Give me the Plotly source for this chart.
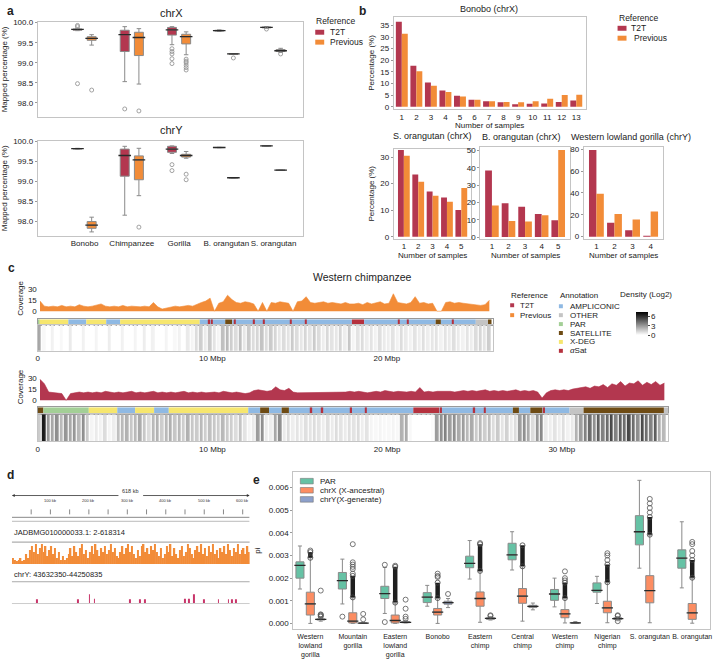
import plotly.graph_objects as go

W, H = 720, 666
FONT = "Liberation Sans, Arial, sans-serif"
T2T_C = "#B3374F"
PREV_C = "#F28C38"
FRAME_C = "#c4c4c4"

# ---------------- panel a data (lower whisker, q1, median, q3, upper whisker) ----------------
a_species = ["Bonobo", "Chimpanzee", "Gorilla", "B. orangutan", "S. orangutan"]
aX_t2t = [(99.80, 99.81, 99.83, 99.84, 99.86), (98.53, 99.28, 99.70, 99.81, 99.90),
          (99.45, 99.69, 99.82, 99.88, 99.90), (99.78, 99.79, 99.80, 99.81, 99.82),
          (99.86, 99.87, 99.88, 99.89, 99.90)]
aX_t2t_out = [[99.90, 99.93, 98.48], [97.85], [99.35, 99.28, 99.22, 99.10, 98.98], [], [99.84]]
aX_prev = [(99.44, 99.56, 99.61, 99.65, 99.70), (98.47, 99.18, 99.63, 99.76, 99.85),
           (99.20, 99.47, 99.65, 99.71, 99.77), (99.21, 99.215, 99.22, 99.225, 99.23),
           (99.26, 99.28, 99.30, 99.33, 99.36)]
aX_prev_out = [[98.32], [97.80], [99.09, 99.04, 99.00, 98.94, 98.88, 98.82], [99.12], [99.22]]
aY_t2t = [(99.81, 99.815, 99.82, 99.825, 99.83), (98.15, 99.13, 99.65, 99.81, 99.88),
          (99.70, 99.73, 99.81, 99.88, 99.89), (99.845, 99.848, 99.85, 99.852, 99.855),
          (99.885, 99.888, 99.89, 99.892, 99.895)]
aY_t2t_out = [[], [], [99.42, 99.27], [], []]
aY_prev = [(97.73, 97.82, 97.90, 97.99, 98.10), (98.64, 99.04, 99.54, 99.64, 99.83),
           (99.58, 99.61, 99.65, 99.68, 99.75), (99.085, 99.088, 99.09, 99.092, 99.095),
           (99.275, 99.278, 99.28, 99.282, 99.285)]
aY_prev_out = [[], [97.85], [99.18, 99.04], [], []]

# ---------------- panel b data ----------------
b_bonobo_n = list(range(1, 14))
b_bonobo_t2t = [36.6, 17.6, 10.4, 7.0, 4.7, 3.0, 2.4, 1.9, 1.1, 1.3, 1.4, 2.0, 2.7]
b_bonobo_prev = [31.4, 15.3, 9.0, 6.3, 4.4, 3.0, 2.4, 2.0, 1.9, 2.3, 3.4, 5.0, 5.1]
b_sorang_n = [1, 2, 3, 4, 5]
b_sorang_t2t = [32.7, 23.5, 17.1, 14.8, 10.1]
b_sorang_prev = [30.5, 20.7, 15.5, 13.2, 18.4]
b_borang_n = [1, 2, 3, 4, 5]
b_borang_t2t = [38.6, 19.6, 17.5, 13.4, 9.7]
b_borang_prev = [18.3, 9.3, 9.0, 12.7, 50.4]
b_gorilla_n = [1, 2, 3, 4]
b_gorilla_t2t = [79.4, 12.7, 5.9, 0.9]
b_gorilla_prev = [39.4, 20.7, 15.7, 23.1]

# ---------------- panel c data (0.25 Mbp bins) ----------------
BIN = 0.25
cov_prev = [14, 7, 6, 7, 6, 8, 6, 7, 6, 9, 7, 6, 7, 8, 10, 7, 6, 7, 6, 8, 6, 7, 6, 6,
            7, 6, 12, 6, 3, 4, 6, 7, 6, 7, 8, 7, 10, 12, 14, 18, 0, 11, 13, 22, 16, 12, 11, 13,
            12, 10, 0, 12, 0, 12, 11, 13, 12, 11, 0, 13, 14, 20, 12, 11, 12, 13, 11, 12,
            11, 10, 12, 10, 10, 11, 9, 12, 10, 11, 13, 10, 11, 24, 12, 11, 10, 12, 20, 11,
            12, 10, 11, 0, 0, 12, 13, 11, 12, 11, 10, 9, 9, 8, 9, 15]
cov_t2t = [28, 22, 11, 10, 10, 9, 0, 9, 10, 11, 10, 11, 10, 11, 10, 12, 11, 10, 11, 10,
           11, 12, 10, 11, 10, 11, 12, 10, 11, 10, 11, 10, 11, 12, 10, 11, 10, 11, 10, 11,
           11, 10, 12, 11, 10, 11, 10, 9, 10, 13, 14, 13, 12, 13, 18, 14, 13, 16, 11, 10,
           10, 11, 10, 11, 10, 11, 10, 11, 11, 10, 11, 12, 11, 12, 11, 10, 11, 12, 11, 13,
           12, 11, 12, 11, 11, 12, 11, 17, 11, 12, 11, 12, 12, 13, 12, 11, 12, 13, 12, 13,
           12, 13, 14, 12, 13, 12, 13, 12, 13, 14, 12, 13, 12, 13, 11, 3, 10, 13, 14, 13,
           14, 13, 15, 16, 17, 18, 16, 19, 18, 21, 17, 22, 20, 25, 19, 23, 22, 26, 20, 24,
           21, 25, 20, 23]
dens_prev = [2.5, 0.2, 0, 0.4, 0, 0.2, 0, 0.6, 0, 0, 0.4, 0, 0, 0.3, 0, 0,
             0.5, 0, 0, 0.4, 0, 0, 0.3, 0, 0.5, 0, 0.4, 0, 0, 0.3, 0, 0.2,
             0.4, 0, 0.6, 0.3, 1.0, 1.4, 0.6, 1.5, 0.8, 0.3, 1.8, 2.0, 1.4, 1.0, 1.8, 0.7,
             1.5, 1.0, 1.2, 1.7, 1.0, 1.5, 1.2, 0.7, 1.0, 0.8, 1.5, 1.0, 0.7, 1.2, 0.8, 1.5,
             1.0, 0.5, 1.1, 0.8, 0.7, 1.2, 0.5, 1.6, 0.3, 0.8, 1.0, 0.5, 0.8, 0.4, 0.9, 0.6,
             0.5, 0.8, 0.4, 1.0, 0.6, 0.4, 0.8, 0.5, 0.9, 0.5, 0.7, 0.8, 0.4, 0.8, 0.6, 0.9,
             0.6, 0.4, 0.8, 0.5, 1.0, 1.2, 0.8, 1.4]
dens_t2t = [1.5, 6.5, 3, 2.5, 3.2, 2, 3, 2.5, 3, 2, 3.2, 1.5, 0.3, 0.6, 0.4, 1.0,
            0.3, 0.5, 1.8, 2.0, 2.2, 1.6, 2.0, 2.4, 1.6, 1.0, 2.0, 2.2, 1.4, 2.0, 2.3, 1.6,
            2.0, 1.4, 2.2, 1.6, 1.5, 2.0, 1.4, 1.8, 1.6, 1.4, 2.0, 1.5, 1.4, 1.0, 1.7, 0.8,
            0.3, 0.6, 2.8, 3.2, 0.6, 0.5, 2.5, 3.2, 0.6, 1.0, 0.5, 0.8, 0.6, 0.9, 0.8, 1.0,
            0.8, 0.5, 0.9, 0.6, 1.0, 0.8, 0.6, 0.9, 0.8, 1.0, 0.5, 0.8, 0.3, 0.2, 0.3, 0.2,
            0.2, 0.3, 0.2, 2.2, 2.4, 0.2, 0, 0, 0, 0, 0.1, 2.8, 3.2, 3.6, 2.8, 3.2,
            2.4, 2.8, 2.0, 2.4, 1.5, 2.0, 1.4, 1.8, 1.0, 1.5, 0.8, 1.3, 0.6, 1.0, 2.8, 3.2,
            2.4, 1.0, 3.0, 3.4, 0.6, 0.5, 0.8, 0.5, 0.9, 0.4, 0.6, 2.2, 2.8, 3.6, 4.2, 3.2,
            4.6, 3.6, 4.2, 5.2, 3.6, 4.6, 4.2, 5.2, 4.2, 3.2, 5.2, 4.2, 3.6, 4.6, 2.4, 2.0]
ann_colors = {"AMPLICONIC": "#8FB9E3", "OTHER": "#C4C4C4", "PAR": "#A3CF96",
              "SATELLITE": "#6E4B14", "X-DEG": "#F6E66E", "αSat": "#B5313E"}
ann_prev = [(0, 0.1, "PAR"), (0.1, 1.75, "X-DEG"), (1.75, 2.78, "AMPLICONIC"), (2.78, 3.92, "X-DEG"),
            (3.92, 4.72, "AMPLICONIC"), (4.72, 9.28, "X-DEG"), (9.28, 10.74, "AMPLICONIC"),
            (10.74, 11.14, "SATELLITE"), (11.14, 18.0, "AMPLICONIC"), (18.0, 18.7, "αSat"),
            (18.7, 22.8, "AMPLICONIC"), (22.8, 23.1, "SATELLITE"), (23.1, 25.1, "AMPLICONIC"),
            (25.1, 25.8, "OTHER"), (25.8, 26.0, "SATELLITE")]
ann_prev_asat = [9.83, 9.98, 11.3, 12.4, 12.97, 14.5, 15.35, 20.7, 21.2, 23.8]
ann_t2t = [(0, 0.32, "SATELLITE"), (0.32, 2.92, "PAR"), (2.92, 4.55, "X-DEG"), (4.55, 5.57, "AMPLICONIC"),
           (5.57, 6.66, "X-DEG"), (6.66, 7.5, "AMPLICONIC"), (7.5, 12.05, "X-DEG"),
           (12.05, 12.73, "AMPLICONIC"), (12.73, 13.24, "SATELLITE"), (13.24, 13.96, "AMPLICONIC"),
           (13.96, 14.38, "SATELLITE"), (14.38, 21.5, "AMPLICONIC"), (21.5, 23.0, "αSat"),
           (23.0, 27.2, "AMPLICONIC"), (27.2, 27.55, "SATELLITE"), (27.55, 28.2, "AMPLICONIC"),
           (28.2, 28.9, "SATELLITE"), (28.9, 30.45, "AMPLICONIC"), (30.45, 31.25, "OTHER"),
           (31.25, 35.85, "SATELLITE"), (35.85, 36.1, "OTHER")]
ann_t2t_asat = [15.67, 16.3, 17.95, 18.8, 23.1, 25.0, 25.6, 29.0]

# ---------------- panel d data ----------------
d_bin_kb = 5
d_orange = [0.3, 0.2, 0.15, 0.2, 0.3, 0.15, 0.2, 0.5, 0.3, 0.7,
            0.9, 0.6, 1.0, 0.5, 0.8, 1.0, 0.6, 0.9, 0.4, 0.7,
            0.9, 0.5, 0.8, 0.3, 0.6, 0.2, 0.4, 0.2, 0.3, 0.5,
            0.8, 0.4, 0.9, 0.6, 0.4, 0.8, 1.0, 0.5, 0.7, 0.3,
            0.6, 0.9, 0.5, 1.0, 0.7, 0.4, 0.8, 0.6, 0.9, 0.5,
            0.7, 1.0, 0.6, 0.8, 0.4, 0.3, 0.6, 0.9, 0.5, 0.8,
            1.0, 0.6, 0.9, 0.5, 0.3, 0.7, 0.4, 0.9, 1.0, 0.6,
            0.8, 0.5, 0.9, 0.7, 1.0, 0.6, 0.4, 0.8, 0.3, 0.5,
            0.9, 0.6, 1.0, 0.4, 0.8, 0.5, 0.3, 0.7, 0.9, 0.4,
            0.6, 1.0, 0.8, 0.5, 0.3, 0.7, 0.9, 0.6, 1.0, 0.5,
            0.8, 0.4, 0.9, 0.6, 1.0, 0.5, 0.7, 0.3, 0.8, 0.6,
            0.9, 0.5, 1.0, 0.7, 0.4, 0.8, 0.6, 1.0, 0.5, 0.7,
            0.8, 0.5, 0.9, 0.6]
d_pink_kb = [65, 171, 201.5, 214.5, 306, 332, 345, 451, 460, 473, 499, 537, 563, 571, 582]
d_pink_h = [0.2, 0.2, 0.43, 0.22, 0.2, 0.2, 0.2, 0.22, 0.22, 0.43, 0.2, 0.2, 0.2, 0.2, 0.2]
d_ruler_ticks = [50, 100, 150, 200, 250, 300, 350, 400, 450, 500, 550, 600]

# ---------------- panel e data ----------------
e_groups = ["Western<br>lowland<br>gorilla", "Mountain<br>gorilla", "Eastern<br>lowland<br>gorilla",
            "Bonobo", "Eastern<br>chimp", "Central<br>chimp", "Western<br>chimp", "Nigerian<br>chimp",
            "S. orangutan", "B. orangutan"]
e_par = [(0.00152, 0.0020, 0.00256, 0.00272, 0.00342), (0.00086, 0.00152, 0.00189, 0.00225, 0.00284),
         (0.00044, 0.0011, 0.00132, 0.00164, 0.00247), (0.00076, 0.00092, 0.00116, 0.00136, 0.00168),
         (0.00196, 0.00246, 0.00265, 0.00297, 0.00366), (0.00236, 0.00281, 0.00303, 0.00354, 0.00405),
         (0.00073, 0.00102, 0.0013, 0.0015, 0.0020), (0.00088, 0.00138, 0.00146, 0.00179, 0.00208),
         (0.00244, 0.00347, 0.00405, 0.00476, 0.00632), (0.00157, 0.00244, 0.00288, 0.00325, 0.00449)]
e_par_out = [[], [0.0003], [0.00006, 0.00259], [], [], [], [], [], [], []]
e_x = [(0.0, 0.00037, 0.00086, 0.00138, 0.0029), (0.0, 0.00002, 0.0001, 0.00047, 0.00113),
       (0.0, 0.00002, 0.00013, 0.00037, 0.0009), (0.0, 0.00037, 0.0005, 0.00066, 0.0011),
       (0.00005, 0.00076, 0.0011, 0.00139, 0.0023), (0.0001, 0.00089, 0.00121, 0.00154, 0.0025),
       (0.00002, 0.00025, 0.00042, 0.00061, 0.0011), (0.00003, 0.00047, 0.00069, 0.00098, 0.0018),
       (0.00003, 0.00091, 0.00145, 0.00211, 0.0039), (0.00001, 0.00018, 0.00047, 0.00088, 0.0020)]
e_x_dense = [(0.0029, 0.00315), (0.00115, 0.0021), (0.00092, 0.0025), (0.00112, 0.0018),
             (0.00232, 0.0035), (0.00252, 0.00345), (0.00112, 0.0018), (0.00182, 0.0026),
             (0.00392, 0.0047), (0.00202, 0.0028)]
e_x_out = [[0.00322], [0.0022, 0.0024, 0.0025, 0.0026, 0.0027, 0.0035], [0.00255],
           [0.00205, 0.0021, 0.0022], [0.00355], [], [0.0019, 0.0020, 0.0023],
           [0.0028, 0.0030, 0.0031], [0.0049, 0.0051, 0.0053, 0.0055], [0.003, 0.0032, 0.0035, 0.0036]]
e_y = [(0.0001, 0.00015, 0.00018, 0.0002, 0.00028), (0.0, 0.0, 0.00001, 0.00002, 0.00004),
       (0.00002, 0.00003, 0.00005, 0.00008, 0.00012), (0.0007, 0.00085, 0.00092, 0.00098, 0.0011),
       (0.00015, 0.00018, 0.00022, 0.00025, 0.0003), (0.0006, 0.0007, 0.00075, 0.0008, 0.0009),
       (0.0, 0.00001, 0.00002, 0.00003, 0.00008), (0.00012, 0.00018, 0.00021, 0.00025, 0.0003)]
e_y_out = [[0.0003, 0.00034, 0.00038, 0.0004, 0.00145], [0.00018, 0.00042],
           [0.0002, 0.0003, 0.00065, 0.00105], [0.0013], [0.00033, 0.00036], [], [],
           [0.0001, 0.00033, 0.00036]]
E_PAR_C, E_X_C, E_Y_C = "#66C2A5", "#FC8D62", "#8DA0CB"

# ---------------- helpers ----------------
def xd(a, b):
    return [a / W, b / W]

def yd(top, bot):
    return [1 - bot / H, 1 - top / H]

def px(x):
    return x / W

def py(y):
    return 1 - y / H

fig = go.Figure()
layout = dict(width=W, height=H, margin=dict(l=0, r=0, t=0, b=0), paper_bgcolor="white",
              plot_bgcolor="white", font=dict(family=FONT, size=8, color="#222"),
              showlegend=False, barmode="group", bargap=0.18, bargroupgap=0.0)
annotations = []
shapes = []

def axis(n, xdom, ydom, xr, yr, frame=True, **kw):
    sx = "" if n == 1 else str(n)
    base = dict(showgrid=False, zeroline=False, showline=frame, mirror=frame, tickangle=0,
                linecolor=FRAME_C, linewidth=1, ticks="", tickfont=dict(size=8))
    xa = dict(base, domain=xdom, range=xr, anchor="y" + sx)
    ya = dict(base, domain=ydom, range=yr, anchor="x" + sx)
    xa.update(kw.get("x", {}))
    ya.update(kw.get("y", {}))
    layout["xaxis" + sx] = xa
    layout["yaxis" + sx] = ya
    return "x" + sx, "y" + sx

def text(x, y, s, size=8, anchor="left", bold=False, color="#222", valign="middle"):
    annotations.append(dict(x=px(x), y=py(y), xref="paper", yref="paper", text=("<b>%s</b>" % s) if bold else s,
                            showarrow=False, xanchor=anchor, yanchor=valign,
                            font=dict(size=size, color=color, family=FONT)))

def swatch(x0, y0, x1, y1, color, line=None):
    shapes.append(dict(type="rect", xref="paper", yref="paper", x0=px(x0), x1=px(x1), y0=py(y1), y1=py(y0),
                       fillcolor=color, line=dict(width=0.6 if line else 0, color=line or color)))

def add_boxes(stats, pos, color, xa, ya, width, msize):
    lo, q1, md, q3, hi = (list(v) for v in zip(*stats))
    fig.add_trace(go.Box(x=pos, lowerfence=lo, q1=q1, median=md, q3=q3, upperfence=hi, width=width,
                         fillcolor=color, line=dict(color="#8a8a8a", width=1), whiskerwidth=0.5,
                         boxpoints=False, xaxis=xa, yaxis=ya, hoverinfo="skip"))
    fig.add_trace(go.Scatter(x=pos, y=md, mode="markers", xaxis=xa, yaxis=ya, hoverinfo="skip",
                             marker=dict(symbol="line-ew", size=msize, line=dict(color="#2a2a2a", width=1.3))))

def add_outliers(outs, pos, xa, ya, size=4, color="#8c8c8c"):
    xs, ys = [], []
    for p, o in zip(pos, outs):
        xs += [p] * len(o)
        ys += o
    fig.add_trace(go.Scatter(x=xs, y=ys, mode="markers", xaxis=xa, yaxis=ya, hoverinfo="skip",
                             marker=dict(symbol="circle-open", size=size, color=color, line=dict(width=0.8))))

# ================= panel a =================
a_idx = list(range(len(a_species)))
a_t2t_pos = [i - 0.15 for i in a_idx]
a_prev_pos = [i + 0.15 for i in a_idx]
aytick = dict(tickvals=[98.0, 98.5, 99.0, 99.5, 100.0], ticktext=["98.0", "98.5", "99.0", "99.5", "100.0"],
              ticks="outside", ticklen=2, tickcolor="#999",
              title=dict(text="Mapped percentage (%)", font=dict(size=8), standoff=4))
xa, ya = axis(1, xd(36, 303), yd(19, 115), [-0.99, 4.63], [97.65, 100.02],
              x=dict(showticklabels=False), y=aytick)
add_boxes(aX_t2t, a_t2t_pos, T2T_C, xa, ya, 0.19, 9)
add_boxes(aX_prev, a_prev_pos, PREV_C, xa, ya, 0.19, 9)
add_outliers(aX_t2t_out, a_t2t_pos, xa, ya)
add_outliers(aX_prev_out, a_prev_pos, xa, ya)
xa, ya = axis(2, xd(36, 303), yd(139, 235), [-0.99, 4.63], [97.63, 100.02],
              x=dict(tickvals=a_idx, ticktext=a_species, tickfont=dict(size=8)), y=aytick)
add_boxes(aY_t2t, a_t2t_pos, T2T_C, xa, ya, 0.19, 9)
add_boxes(aY_prev, a_prev_pos, PREV_C, xa, ya, 0.19, 9)
add_outliers(aY_t2t_out, a_t2t_pos, xa, ya)
add_outliers(aY_prev_out, a_prev_pos, xa, ya)
text(3, 8, "a", 12, bold=True)
text(170, 10, "chrX", 11, anchor="center")
text(170, 128, "chrY", 11, anchor="center")
text(314, 18, "Reference", 8.5)
swatch(315, 27, 324, 32, T2T_C)
text(328, 29.5, "T2T", 8.5)
swatch(315, 37, 324, 42, PREV_C)
text(328, 39.5, "Previous", 8.5)

# ================= panel b =================
def bar_panel(n, xdom, ydom, xr, yr, cats, t2t, prev, ytv, ytitle, xt_y):
    ykw = dict(tickvals=ytv, ticks="outside", ticklen=2, tickcolor="#999")
    if ytitle:
        ykw["title"] = dict(text="Percentage (%)", font=dict(size=8), standoff=4)
    xa, ya = axis(n, xdom, ydom, xr, yr, x=dict(tickvals=cats), y=ykw)
    fig.add_trace(go.Bar(x=cats, y=t2t, marker=dict(color=T2T_C, line=dict(width=0)), xaxis=xa, yaxis=ya, hoverinfo="skip"))
    fig.add_trace(go.Bar(x=cats, y=prev, marker=dict(color=PREV_C, line=dict(width=0)), xaxis=xa, yaxis=ya, hoverinfo="skip"))
    text((xdom[0] + xdom[1]) * W / 2, xt_y, "Number of samples", 8, anchor="center")

bar_panel(3, xd(394, 587), yd(14, 107), [0.45, 13.65], [-1, 38.7], b_bonobo_n, b_bonobo_t2t, b_bonobo_prev,
          [0, 5, 10, 15, 20, 25, 30, 35], True, 124)
bar_panel(4, xd(394, 472), yd(147, 238), [0.3, 5.7], [-0.8, 33.2], b_sorang_n, b_sorang_t2t, b_sorang_prev,
          [0, 10, 20, 30], True, 255)
bar_panel(5, xd(481, 571), yd(145, 238), [0.3, 5.7], [-1, 52.3], b_borang_n, b_borang_t2t, b_borang_prev,
          [0, 10, 20, 30, 40, 50], False, 255)
bar_panel(6, xd(585, 665), yd(145, 238), [0.3, 4.7], [-2, 82.4], b_gorilla_n, b_gorilla_t2t, b_gorilla_prev,
          [0, 20, 40, 60, 80], False, 255)
text(357, 8, "b", 12, bold=True)
text(490, 6, "Bonobo (chrX)", 9, anchor="center")
text(433, 134, "S. orangutan (chrX)", 9, anchor="center")
text(522, 135, "B. orangutan (chrX)", 9, anchor="center")
text(633, 135, "Western lowland gorilla (chrY)", 9, anchor="center")
text(618, 15, "Reference", 8.5)
swatch(619, 23, 628, 28, T2T_C)
text(631, 25.5, "T2T", 8.5)
swatch(619, 33, 628, 38, PREV_C)
text(634, 35.5, "Previous", 8.5)

# ================= panel c =================
def cov_panel(n, top, bot, xend, xr, vals, color):
    xs = [BIN * (i + 0.5) for i in range(len(vals))]
    xa, ya = axis(n, xd(36, xend), yd(top, bot), xr, [-2.7, 38.2], frame=False,
                  x=dict(showticklabels=False),
                  y=dict(tickvals=[0, 15, 30], title=dict(text="Coverage", font=dict(size=8), standoff=3)))
    fig.add_trace(go.Scatter(x=xs, y=vals, mode="lines", fill="tozeroy", line=dict(color=color, width=0.6),
                             fillcolor=color, xaxis=xa, yaxis=ya, hoverinfo="skip"))

def ann_panel(n, top, bot, xend, xr, segs, asat):
    xa, ya = axis(n, xd(36, xend), yd(top, bot), xr, [-0.5, 0.5], frame=True,
                  x=dict(showticklabels=False, linecolor="#9a9a9a"), y=dict(showticklabels=False, linecolor="#9a9a9a"))
    starts = [s for s, e, t in segs] + [a - 0.04 for a in asat]
    lens = [e - s for s, e, t in segs] + [0.08] * len(asat)
    cols = [ann_colors[t] for s, e, t in segs] + [ann_colors["αSat"]] * len(asat)
    fig.add_trace(go.Bar(y=[0] * len(starts), x=lens, base=starts, orientation="h", width=1,
                         marker=dict(color=cols, line=dict(width=0)), xaxis=xa, yaxis=ya, hoverinfo="skip"))

def dens_panel(n, top, bot, xend, xr, vals, tv, tt):
    xs = [BIN * (i + 0.5) for i in range(len(vals))]
    xa, ya = axis(n, xd(36, xend), yd(top, bot), xr, [-0.5, 0.5], frame=True,
                  x=dict(tickvals=tv, ticktext=tt, tickfont=dict(size=8)), y=dict(showticklabels=False))
    fig.add_trace(go.Heatmap(x=xs, y=[0], z=[vals], coloraxis="coloraxis", xgap=1.2,
                             xaxis=xa, yaxis=ya, hoverinfo="skip"))

XR_PREV = [0, 26.1]
XR_T2T = [0, 36.1]
cov_panel(7, 283, 313, 494, XR_PREV, cov_prev, PREV_C)
ann_panel(8, 319, 325, 494, XR_PREV, ann_prev, ann_prev_asat)
dens_panel(9, 325, 351, 494, XR_PREV, dens_prev, [0, 10, 20], ["0", "10 Mbp", "20 Mbp"])
cov_panel(10, 372, 403, 670, XR_T2T, cov_t2t, T2T_C)
ann_panel(11, 408, 415, 670, XR_T2T, ann_t2t, ann_t2t_asat)
dens_panel(12, 415, 442, 670, XR_T2T, dens_t2t, [0, 10, 20, 30], ["0", "10 Mbp", "20 Mbp", "30 Mbp"])
layout["coloraxis"] = dict(colorscale=[[0, "#ffffff"], [1, "#000000"]], cmin=0, cmax=7.2,
                           colorbar=dict(x=px(627), xanchor="left", y=py(302), yanchor="top",
                                         lenmode="pixels", len=43, thicknessmode="pixels", thickness=12,
                                         tickvals=[0, 3, 6], ticks="outside", ticklen=2,
                                         tickfont=dict(size=8), outlinewidth=0))
text(4, 267, "c", 12, bold=True)
text(363, 276, "Western chimpanzee", 10.5, anchor="center")
text(510, 295, "Reference", 8)
swatch(511, 303, 515, 307, T2T_C)
text(519, 305, "T2T", 8)
swatch(511, 313, 515, 317, PREV_C)
text(519, 315, "Previous", 8)
text(559, 295, "Annotation", 8)
for i, k in enumerate(["AMPLICONIC", "OTHER", "PAR", "SATELLITE", "X-DEG", "αSat"]):
    yy = 306 + 9 * i
    swatch(560, yy - 2, 564, yy + 2, ann_colors[k])
    text(569, yy, k if k != "αSat" else "<i>α</i>Sat", 8)
text(648, 294, "Density (Log2)", 8, anchor="center")

# ================= panel d =================
D_X = xd(10, 249)
xa, ya = axis(13, D_X, yd(494, 525), [0, 618], [0, 1], frame=False,
              x=dict(showticklabels=False), y=dict(showticklabels=False))
for t in d_ruler_ticks:
    shapes.append(dict(type="line", xref="x13", yref="paper", x0=t, x1=t, y0=py(516), y1=py(511),
                       line=dict(color="#555", width=0.7)))
    if t % 100 == 0:
        annotations.append(dict(x=t, y=py(506.5), xref="x13", yref="paper", text="%d kb" % t, showarrow=False,
                                font=dict(size=4, color="#333", family=FONT)))
for yy, cc in [(519, "#888"), (523, "#bbb")]:
    shapes.append(dict(type="line", xref="x13", yref="paper", x0=0, x1=618, y0=py(yy), y1=py(yy),
                       line=dict(color=cc, width=1)))
for xhead, off in [(0, 108), (618, -108)]:
    annotations.append(dict(x=xhead, y=py(497), xref="x13", yref="paper", ax=off, ay=0, axref="pixel",
                            ayref="pixel", text="", showarrow=True, arrowhead=2, arrowsize=0.7, arrowwidth=0.8,
                            arrowcolor="#333"))
annotations.append(dict(x=309, y=py(497), xref="x13", yref="paper", text="618 kb", showarrow=False,
                        font=dict(size=5.5, color="#333", family=FONT)))
xa, ya = axis(14, D_X, yd(544, 566), [0, 618], [0, 1.1], frame=False,
              x=dict(showticklabels=False), y=dict(showticklabels=False))
fig.add_trace(go.Bar(x=[d_bin_kb * (i + 0.5) for i in range(len(d_orange))], y=d_orange, width=3.8,
                     marker=dict(color=PREV_C, line=dict(width=0)), xaxis=xa, yaxis=ya, hoverinfo="skip"))
xa, ya = axis(15, D_X, yd(584, 606), [0, 618], [0, 1], frame=False,
              x=dict(showticklabels=False), y=dict(showticklabels=False))
fig.add_trace(go.Bar(x=d_pink_kb, y=d_pink_h, width=2.5, marker=dict(color="#C8356A", line=dict(width=0)),
                     xaxis=xa, yaxis=ya, hoverinfo="skip"))
shapes.append(dict(type="line", xref="paper", yref="paper", x0=px(10), x1=px(249), y0=py(544), y1=py(544),
                   line=dict(color="#999", width=1)))
shapes.append(dict(type="line", xref="paper", yref="paper", x0=px(10), x1=px(249), y0=py(584), y1=py(584),
                   line=dict(color="#aaa", width=1)))
shapes.append(dict(type="line", xref="paper", yref="paper", x0=px(10), x1=px(249), y0=py(606), y1=py(606),
                   line=dict(color="#ccc", width=1)))
text(3, 476, "d", 12, bold=True)
text(10, 534, "JADBMG010000033.1: 2-618314", 7.5)
text(10, 577, "chrY: 43632350-44250835", 7.5)

# ================= panel e =================
e_idx = list(range(len(e_groups)))
e_par_pos = [i - 0.245 for i in e_idx]
e_x_pos = list(e_idx)
e_y_pos = [i + 0.245 for i in range(len(e_y))]
xa, ya = axis(16, xd(293, 712), yd(473, 632), [-0.4, 9.42], [-0.00026, 0.0067],
              x=dict(tickvals=e_idx, ticktext=e_groups, tickfont=dict(size=7)),
              y=dict(tickvals=[0, 0.001, 0.002, 0.003, 0.004, 0.005, 0.006], tickformat=".3f",
                     ticks="outside", ticklen=2, tickcolor="#999",
                     title=dict(text="pi", font=dict(size=8), standoff=6)))
add_boxes(e_par, e_par_pos, E_PAR_C, xa, ya, 0.19, 8)
add_boxes(e_x, e_x_pos, E_X_C, xa, ya, 0.19, 8)
add_boxes(e_y, e_y_pos, E_Y_C, xa, ya, 0.19, 8)
for p, (lo, hi) in zip(e_x_pos, e_x_dense):
    fig.add_trace(go.Scatter(x=[p, p], y=[lo, hi], mode="lines+markers", xaxis=xa, yaxis=ya, hoverinfo="skip",
                             line=dict(color="#1e1e1e", width=4.5),
                             marker=dict(symbol="circle-open", size=5, color="#444", line=dict(width=0.8))))
add_outliers(e_par_out, e_par_pos, xa, ya, 5, "#555")
add_outliers(e_x_out, e_x_pos, xa, ya, 5, "#555")
add_outliers(e_y_out, e_y_pos, xa, ya, 5, "#555")
text(250, 481, "e", 12, bold=True)
for i, (lab, c) in enumerate([("PAR", E_PAR_C), ("chrX (X-ancestral)", E_X_C), ("chrY(X-generate)", E_Y_C)]):
    yy = 482.5 + 9.2 * i
    swatch(300, yy - 2.8, 313, yy + 2.8, c, line="#777")
    text(318, yy, lab, 8)

layout["annotations"] = annotations
layout["shapes"] = shapes
fig.update_layout(**layout)
fig.write_html("out.html", config={"displayModeBar": False},
               post_script="document.body.style.margin='0px';document.body.style.padding='0px';")
